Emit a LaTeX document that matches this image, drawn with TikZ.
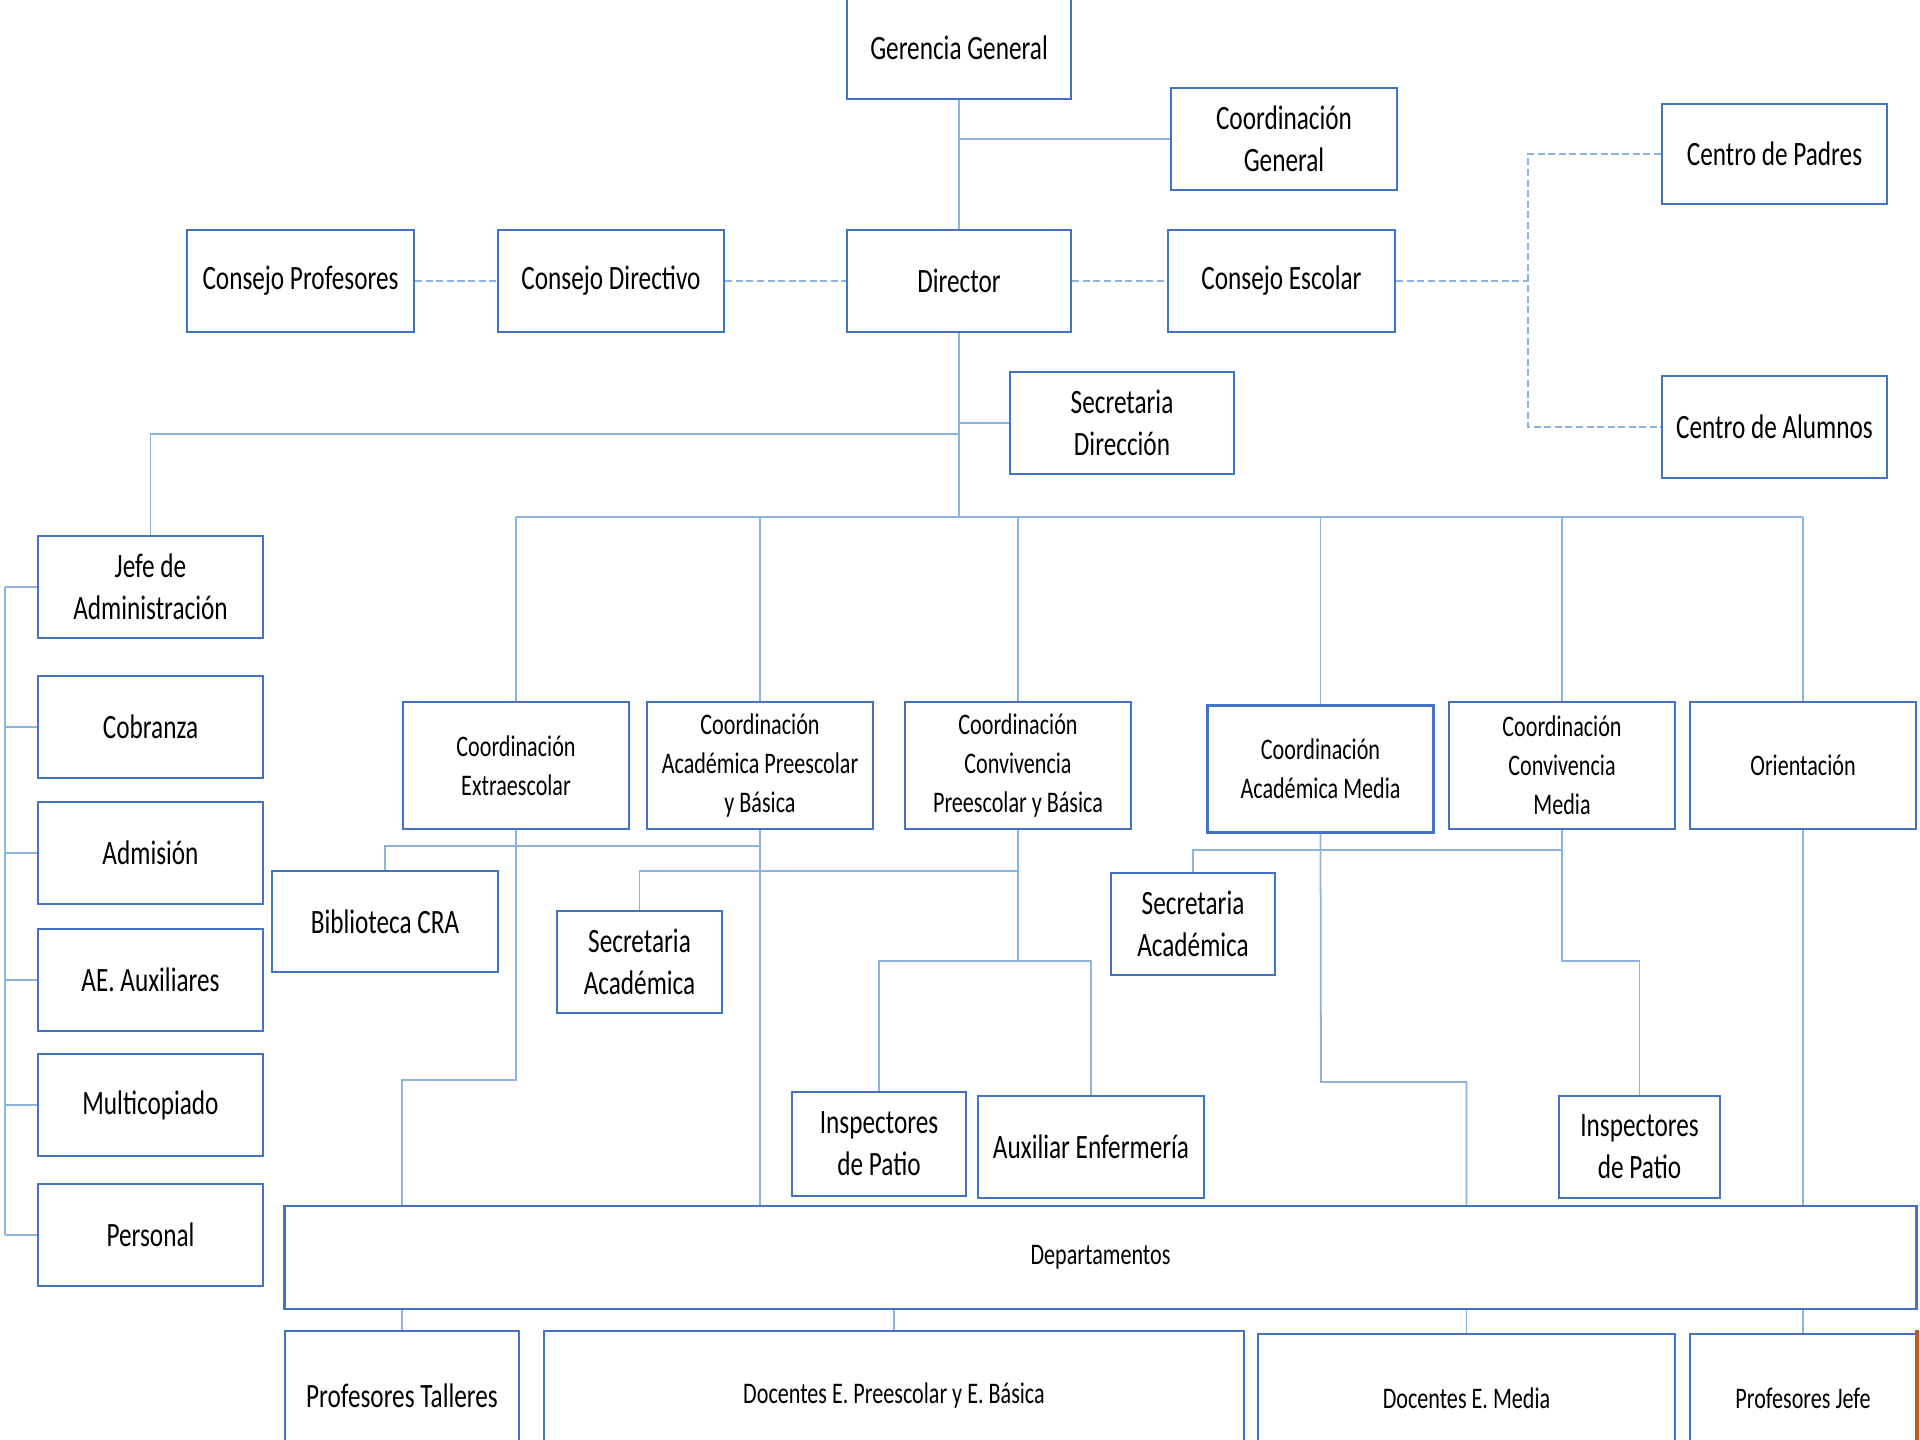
\documentclass[tikz,border=0pt]{standalone}
\usepackage{fontspec}
\usepackage{tikz}
\newfontfamily\cajafont{Carlito}[FakeStretch=0.74]
\definecolor{azulcaja}{RGB}{68,114,196}
\definecolor{azullinea}{RGB}{140,180,222}
\definecolor{bordenaranja}{RGB}{196,89,17}

\begin{document}
\begin{tikzpicture}[x=0.01cm, y=-0.01cm,
    caja/.style={draw=azulcaja, line width=0.7pt, fill=white, inner sep=0pt, align=center, text=black,
      minimum width=2.25cm, minimum height=1.02cm, font=\cajafont\fontsize{9.7}{12}\selectfont},
    cajap/.style={caja, minimum width=2.26cm, minimum height=1.27cm, font=\cajafont\fontsize{8.5}{11.1}\selectfont},
    linea/.style={draw=azullinea, line width=0.5pt},
    punteada/.style={linea, dash pattern=on 2pt off 1pt}]
    \path[use as bounding box, fill=white] (0,0) rectangle (1920,1440);

    % Direccion
    \node[caja, minimum width=2.24cm] (gerencia) at (959,48) {Gerencia General};
    \node[caja, minimum width=2.26cm] (coordgen) at (1284,139) {Coordinación\\General};
    \node[caja, minimum height=1.0cm] (padres) at (1774.5,154) {Centro de Padres};
    \node[caja, minimum width=2.27cm] (consprof) at (300.5,281) {Consejo Profesores};
    \node[caja, minimum width=2.26cm] (consdir) at (611,281) {Consejo Directivo};
    \node[caja, minimum width=2.24cm] (director) at (959,281) {Director};
    \node[caja, minimum width=2.27cm] (consesc) at (1281.5,281) {Consejo Escolar};
    \node[caja, minimum width=2.24cm] (secdir) at (1122,423) {Secretaria\\Dirección};
    \node[caja] (alumnos) at (1774.5,427) {Centro de Alumnos};

    % Administracion
    \node[caja] (jefe) at (150.5,587) {Jefe de\\Administración};
    \node[caja] (cobranza) at (150.5,727) {Cobranza};
    \node[caja] (admision) at (150.5,853) {Admisión};
    \node[caja] (auxiliares) at (150.5,980) {AE. Auxiliares};
    \node[caja] (multicopiado) at (150.5,1105) {Multicopiado};
    \node[caja] (personal) at (150.5,1235) {Personal};

    % Coordinaciones
    \node[cajap] (extra) at (516,765.5) {Coordinación\\Extraescolar};
    \node[cajap] (acadpb) at (760,765.5) {Coordinación\\Académica Preescolar\\y Básica};
    \node[cajap] (convpb) at (1018,765.5) {Coordinación\\Convivencia\\Preescolar y Básica};
    \node[cajap] (acadmed) at (1320.5,769) {Coordinación\\Académica Media};
    \node[cajap] (convmed) at (1562,765.5) {Coordinación\\Convivencia\\Media};
    \node[cajap] (orient) at (1803,765.5) {Orientación};

    % Apoyo
    \node[caja, minimum width=2.26cm, minimum height=1.01cm] (biblio) at (385,921.5) {Biblioteca CRA};
    \node[caja, minimum width=1.65cm] (secacad1) at (639.5,962) {Secretaria\\Académica};
    \node[caja, minimum width=1.64cm] (secacad2) at (1193,924) {Secretaria\\Académica};
    \node[caja, minimum width=1.74cm, minimum height=1.04cm] (insp1) at (879,1144) {Inspectores\\de Patio};
    \node[caja, minimum width=2.26cm] (auxenf) at (1091,1147) {Auxiliar Enfermería};
    \node[caja, minimum width=1.61cm] (insp2) at (1639.5,1147) {Inspectores\\de Patio};

    % Departamentos y docentes
    \node[cajap, minimum width=16.31cm, minimum height=1.03cm] (depto) at (1100.5,1257.5) {Departamentos};
    \node[caja, minimum width=2.34cm, minimum height=1.30cm] (talleres) at (402,1396) {Profesores Talleres};
    \node[cajap, minimum width=7.00cm, minimum height=1.30cm] (docpb) at (894,1396) {Docentes E. Preescolar y E. Básica};
    \node[cajap, minimum width=4.17cm, minimum height=1.28cm] (docmed) at (1466.5,1398) {Docentes E. Media};
    \node[cajap, minimum width=2.26cm, minimum height=1.28cm] (profjefe) at (1803,1398) {Profesores Jefe};

    % puntos de quiebre
    \coordinate (cruce) at (1528,281);
    \coordinate (ramaadm) at (959,434);
    \coordinate (bus) at (959,517);
    \coordinate (admtop) at (5,587);
    \coordinate (ramabib) at (760,846);
    \coordinate (ramasec2) at (1562,850);
    \coordinate (ramasec) at (1018,871);
    \coordinate (codoconv) at (1018,961);
    \coordinate (codoconvm) at (1562,961);
    \coordinate (codoext) at (516,1080);
    \coordinate (codomed) at (1321,1082);

    % Gerencia - Director
    \draw[linea] (gerencia.south) -- (director.north);
    \draw[linea] (gerencia.south |- coordgen.west) -- (coordgen.west);

    % consejos (punteadas)
    \draw[punteada] (consprof.east) -- (consdir.west);
    \draw[punteada] (consdir.east) -- (director.west);
    \draw[punteada] (director.east) -- (consesc.west);
    \draw[punteada] (consesc.east) -- (cruce);
    \draw[punteada] (padres.west) -| (cruce) |- (alumnos.west);

    % Director hacia abajo
    \draw[linea] (director.south) -- (bus);
    \draw[linea] (director.south |- secdir.west) -- (secdir.west);
    \draw[linea] (ramaadm) -| (jefe.north);
    \draw[linea] (extra.north |- bus) -- (orient.north |- bus);
    \foreach \n in {extra,acadpb,convpb,acadmed,convmed,orient}
        \draw[linea] (\n.north |- bus) -- (\n.north);

    % Administracion
    \draw[linea] (admtop) -- (admtop |- personal.west);
    \foreach \n in {jefe,cobranza,admision,auxiliares,multicopiado,personal}
        \draw[linea] (admtop |- \n.west) -- (\n.west);

    % Coordinaciones hacia abajo
    \draw[linea] (extra.south) -- (codoext) -| (talleres.north |- depto.north);
    \draw[linea] (acadpb.south) -- (acadpb.south |- depto.north);
    \draw[linea] (ramabib) -| (biblio.north);
    \draw[linea] (convpb.south) -- (codoconv);
    \draw[linea] (ramasec) -| (secacad1.north);
    \draw[linea] (insp1.north) |- (codoconv) -| (auxenf.north);
    \draw[linea] (acadmed.south) -- (codomed) -| (docmed.north |- depto.north);
    \draw[linea] (ramasec2) -| (secacad2.north);
    \draw[linea] (convmed.south) -- (codoconvm) -| (insp2.north);
    \draw[linea] (orient.south) -- (orient.south |- depto.north);

    % Departamentos - docentes
    \foreach \n in {talleres,docpb,docmed,profjefe}
        \draw[linea] (\n.north |- depto.south) -- (\n.north);

    \draw[bordenaranja, line width=0.9pt] (1917,1330) -- (1917,1440); % borde
\end{tikzpicture}
\end{document}
